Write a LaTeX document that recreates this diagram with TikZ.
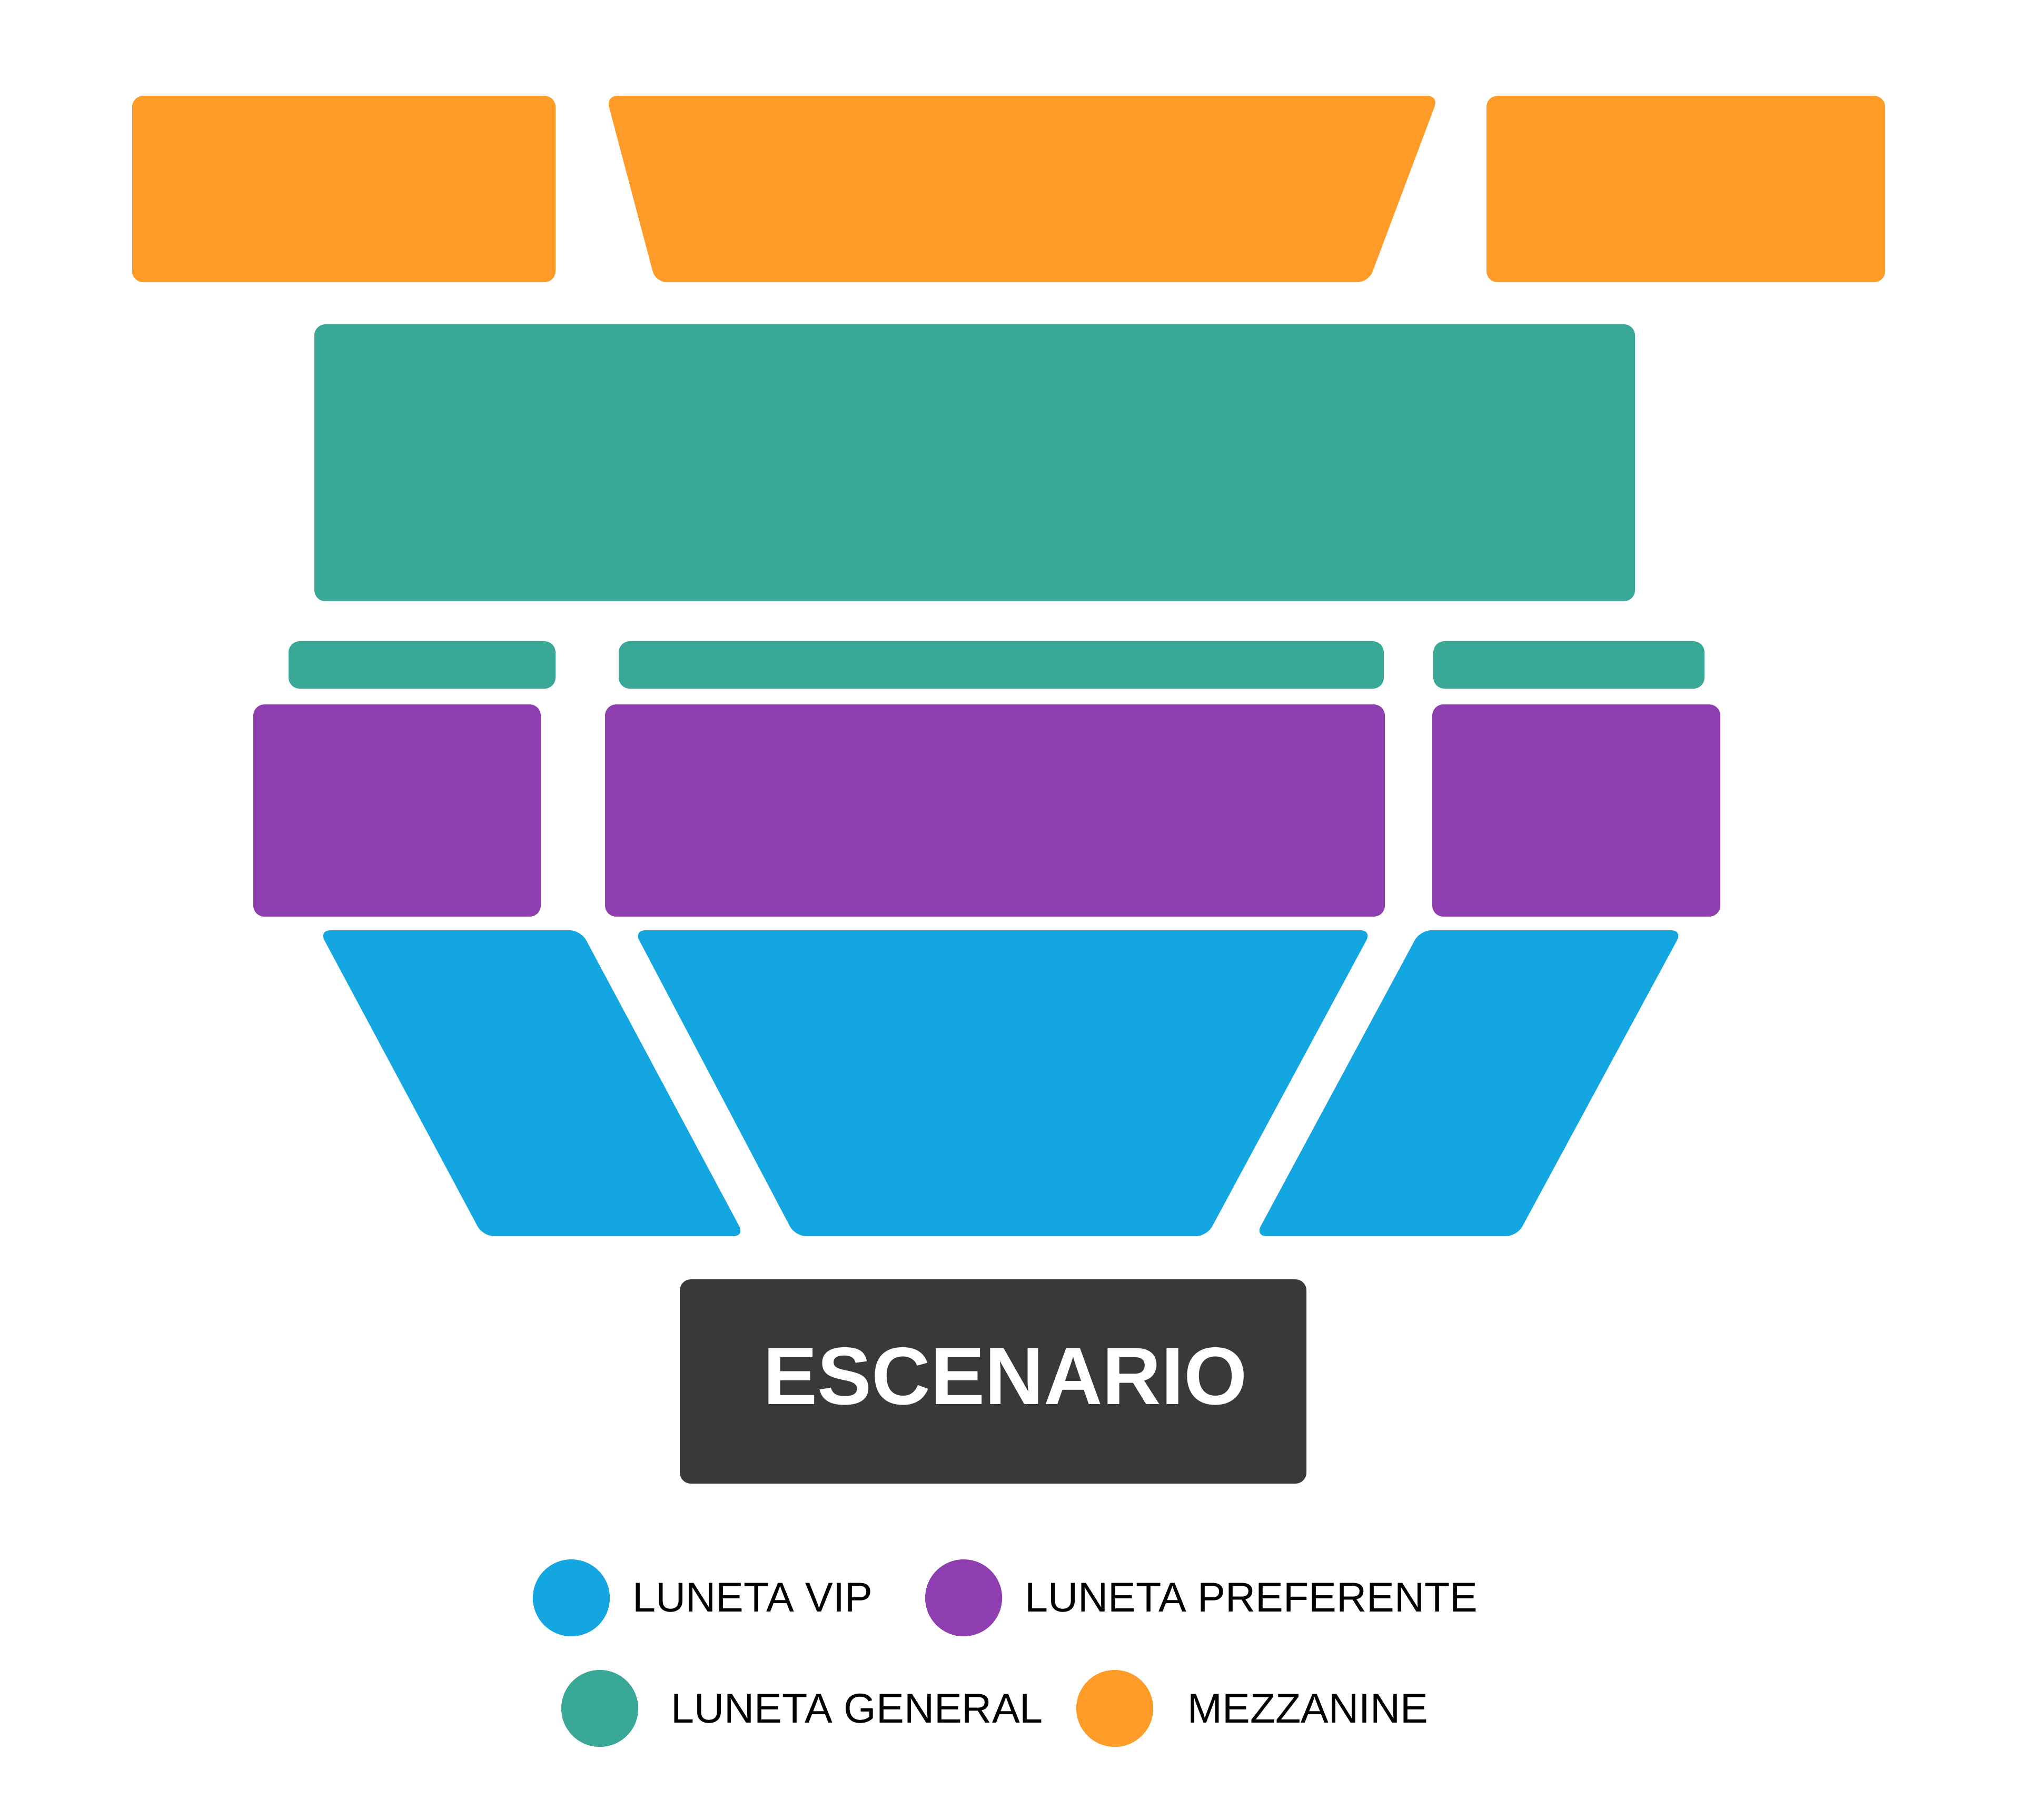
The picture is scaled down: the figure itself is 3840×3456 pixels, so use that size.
\documentclass[tikz,border=0pt]{standalone}
\usepackage{fontspec}
\setmainfont{Liberation Sans}
\usetikzlibrary{positioning}

\definecolor{mezzOrange}{RGB}{255,155,40}
\definecolor{generalGreen}{RGB}{58,168,150}
\definecolor{prefPurple}{RGB}{142,62,175}
\definecolor{vipBlue}{RGB}{20,166,224}
\definecolor{stageGrey}{RGB}{58,57,58}

\tikzset{
  seat/.style={rounded corners=6pt},
  dot/.style={circle, inner sep=0pt, minimum size=1.46cm},
  legtext/.style={anchor=west, inner sep=0pt, text=black, font=\fontsize{22.5}{26}\selectfont}
}

\begin{document}
\begin{tikzpicture}[x=0.01cm, y=-0.01cm]

  % Bounding box of the scheme
  \useasboundingbox (0,0) rectangle (3840,3456) ;
  \fill[white] (0,0) rectangle (3840,3456) ;

  %%%%%%%%%%%%%%%%%%%%%%%%%%%%%%%%% Mezzanine %%%%%%%%%%%%%%%%%%%%%%%%%%%%%%%%%%%%
  \fill[seat, mezzOrange] (251,182) rectangle (1055,536) ;
  \fill[seat, mezzOrange] (1151,182) -- (2732,182) -- (2599,536) -- (1245,536) -- cycle ;
  \fill[seat, mezzOrange] (2823,182) rectangle (3580,536) ;

  %%%%%%%%%%%%%%%%%%%%%%%%%%%%%%%%% Luneta general %%%%%%%%%%%%%%%%%%%%%%%%%%%%%%%%%%%%
  \fill[seat, generalGreen] (597,616) rectangle (3105,1142) ;
  \fill[seat, generalGreen] (548,1218) rectangle (1055,1308) ;
  \fill[seat, generalGreen] (1175,1218) rectangle (2628,1308) ;
  \fill[seat, generalGreen] (2722,1218) rectangle (3237,1308) ;

  %%%%%%%%%%%%%%%%%%%%%%%%%%%%%%%%% Luneta preferente %%%%%%%%%%%%%%%%%%%%%%%%%%%%%%%%%%%%
  \fill[seat, prefPurple] (481,1338) rectangle (1027,1741) ;
  \fill[seat, prefPurple] (1149,1338) rectangle (2630,1741) ;
  \fill[seat, prefPurple] (2720,1338) rectangle (3267,1741) ;

  %%%%%%%%%%%%%%%%%%%%%%%%%%%%%%%%% Luneta VIP %%%%%%%%%%%%%%%%%%%%%%%%%%%%%%%%%%%%
  \fill[seat, vipBlue] (606,1767) -- (1103,1767) -- (1414,2348) -- (917,2348) -- cycle ;
  \fill[seat, vipBlue] (1204,1767) -- (2605,1767) -- (2292,2348) -- (1510,2348) -- cycle ;
  \fill[seat, vipBlue] (2697,1767) -- (3195,1767) -- (2881,2348) -- (2384,2348) -- cycle ;

  %%%%%%%%%%%%%%%%%%%%%%%%%%%%%%%%% Stage %%%%%%%%%%%%%%%%%%%%%%%%%%%%%%%%%%%%
  \fill[seat, stageGrey] (1291,2430) rectangle (2481,2818) ;
  \node[text=white, font=\fontsize{44}{50}\selectfont\bfseries] (Stage) at (1909,2614) {ESCENARIO} ;

  %%%%%%%%%%%%%%%%%%%%%%%%%%%%%%%%% Legend %%%%%%%%%%%%%%%%%%%%%%%%%%%%%%%%%%%%
  \node[dot, fill=vipBlue] (DotVip) at (1085,3035) {} ;
  \node[legtext, right=0.42cm of DotVip] (TxtVip) {LUNETA VIP} ;
  \node[dot, fill=prefPurple] (DotPref) at (1830,3035) {} ;
  \node[legtext, right=0.42cm of DotPref] (TxtPref) {LUNETA PREFERENTE} ;
  \node[dot, fill=generalGreen] (DotGen) at (1139,3245) {} ;
  \node[legtext, right=0.61cm of DotGen] (TxtGen) {LUNETA GENERAL} ;
  \node[dot, fill=mezzOrange] (DotMezz) at (2117,3245) {} ;
  \node[legtext, right=0.64cm of DotMezz] (TxtMezz) {MEZZANINE} ;

\end{tikzpicture}
\end{document}
